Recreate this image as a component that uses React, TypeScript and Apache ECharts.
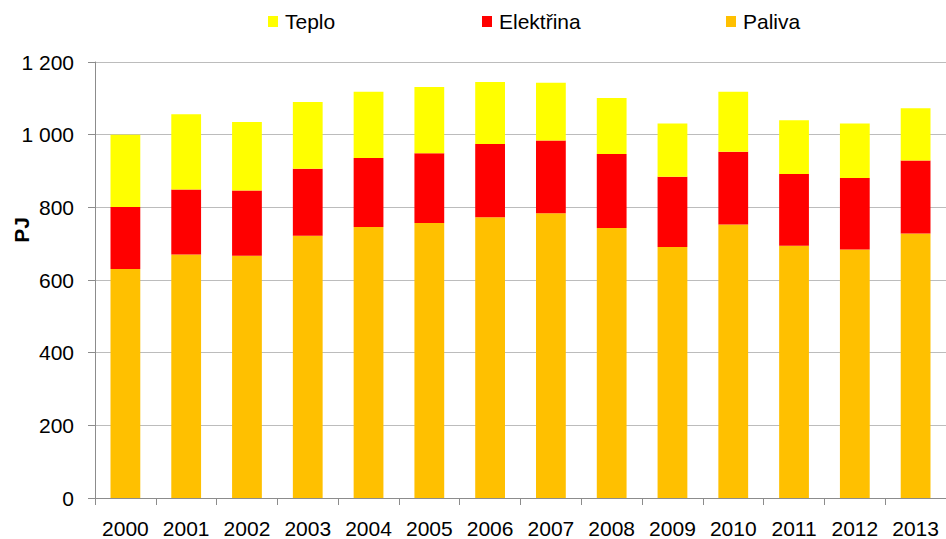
import React, { useEffect, useRef } from "react";
import * as echarts from "echarts";

const years = ["2000","2001","2002","2003","2004","2005","2006","2007","2008","2009","2010","2011","2012","2013"];
const paliva = [630, 670, 667, 722, 746, 757, 773, 784, 743, 691, 753, 694, 684, 728];
const elektrina = [171, 179, 179, 184, 190, 192, 201, 200, 204, 193, 200, 198, 197, 201];
const teplo = [199, 207, 189, 184, 182, 182, 171, 159, 154, 147, 165, 148, 150, 144];
const yTicks = [0, 200, 400, 600, 800, 1000, 1200];

const FONT = "'Liberation Sans', Arial, sans-serif";

export default function App() {
  const ref = useRef<HTMLDivElement>(null);
  useEffect(() => {
    if (!ref.current) return;
    const chart = echarts.init(ref.current, undefined, { renderer: "svg" });
    const legendBase = {
      top: 6,
      itemWidth: 10,
      itemHeight: 11,
      itemGap: 0,
      icon: "rect",
      textStyle: { fontFamily: FONT, fontSize: 21, color: "#000", padding: [0, 0, 0, 2] },
    };
    chart.setOption({
      animation: false,
      textStyle: { fontFamily: FONT },
      legend: [
        { ...legendBase, left: 263, data: ["Teplo"] },
        { ...legendBase, left: 477, data: ["Elektřina"] },
        { ...legendBase, left: 721, data: ["Paliva"] },
      ],
      grid: { left: 95, right: 0, top: 62, bottom: 39, containLabel: false },
      xAxis: {
        type: "category",
        data: years,
        axisLine: { lineStyle: { color: "#8c8c8c", width: 1 } },
        axisTick: { show: true, length: 7, lineStyle: { color: "#8c8c8c" } },
        axisLabel: { fontFamily: FONT, fontSize: 21, color: "#000", margin: 20 },
      },
      yAxis: {
        type: "value",
        min: 0,
        max: 1200,
        interval: 200,
        axisLine: { show: true, lineStyle: { color: "#8c8c8c", width: 1 } },
        axisTick: { show: true, length: 7, lineStyle: { color: "#8c8c8c" } },
        splitLine: { show: true, lineStyle: { color: "#bcbcbc", width: 1 } },
        axisLabel: {
          fontFamily: FONT,
          fontSize: 21,
          color: "#000",
          margin: 21,
          formatter: (v: number) => (yTicks.includes(v) ? (v >= 1000 ? String(v).replace(/^(\d)(\d{3})$/, "$1 $2") : String(v)) : ""),
        },
      },
      graphic: [
        {
          type: "text",
          x: 21,
          y: 230,
          rotation: Math.PI / 2,
          style: {
            text: "PJ",
            fontFamily: FONT,
            fontSize: 21,
            fontWeight: "bold",
            fill: "#000",
            align: "center",
            verticalAlign: "middle",
          },
        },
      ],
      series: [
        { name: "Paliva", type: "bar", stack: "a", data: paliva, barWidth: "49%", itemStyle: { color: "#FFC000" } },
        { name: "Elektřina", type: "bar", stack: "a", data: elektrina, barWidth: "49%", itemStyle: { color: "#FF0000" } },
        { name: "Teplo", type: "bar", stack: "a", data: teplo, barWidth: "49%", itemStyle: { color: "#FFFF00" } },
      ],
    });
    return () => chart.dispose();
  }, []);
  return <div ref={ref} style={{ width: 946, height: 539, position: "absolute", left: 0, top: 0, background: "#fff" }} />;
}
